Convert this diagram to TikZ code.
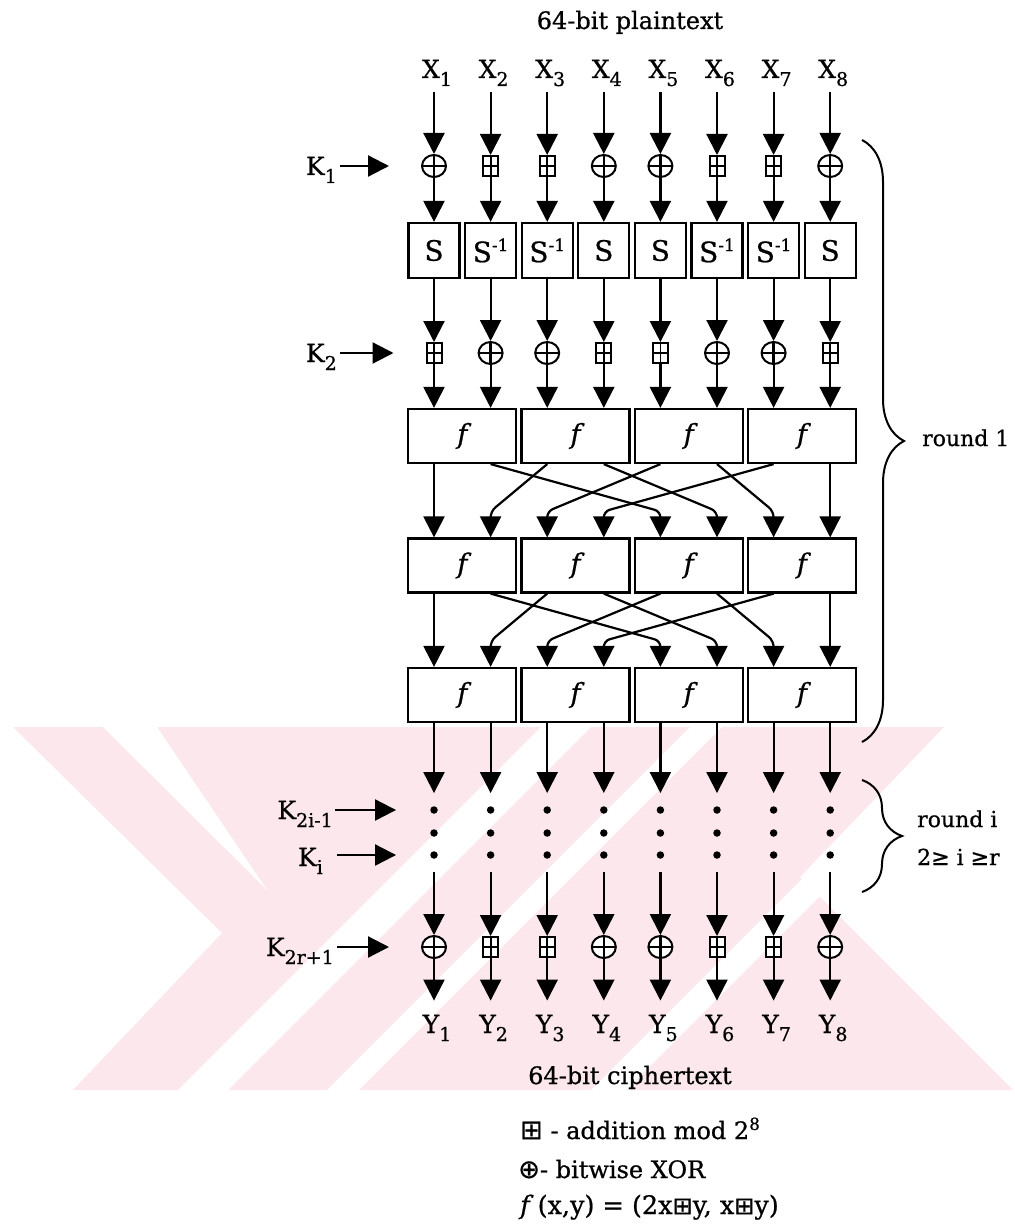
\documentclass[tikz,border=0pt]{standalone}
\usepackage{fontspec}
\setmainfont{DejaVu Serif}[FakeBold=0.7]
\newfontfamily\symf{DejaVu Sans}[FakeBold=0.7]
\usetikzlibrary{arrows.meta,shapes.geometric,calc,decorations.pathreplacing}
\definecolor{wmpink}{RGB}{252,232,236}
\newcommand\lsub[1]{\raisebox{-8pt}{\fontsize{19}{19}\selectfont #1}}
\newcommand\sinv{S\raisebox{11pt}{\fontsize{17}{17}\selectfont -1}}
\begin{document}
\begin{tikzpicture}[x=1pt,y=-1pt,
  arr/.style={line width=2.2pt,-{Triangle[length=21pt,width=21pt]}},
  txt/.style={font=\fontsize{24}{28}\selectfont, inner sep=0pt},
  lbl/.style={font=\fontsize{25}{28}\selectfont, inner sep=0pt},
  sbox/.style={draw, line width=2.2pt, minimum width=51pt, minimum height=55pt, inner sep=0pt, font=\fontsize{28}{28}\selectfont},
  fbox/.style={draw, line width=2.2pt, minimum width=108pt, minimum height=54pt, inner sep=0pt, font=\fontsize{27}{27}\selectfont\itshape},
  xorop/.style={draw, ellipse, line width=2pt, minimum width=24pt, minimum height=22pt, inner sep=0pt, fill=white,
    path picture={\draw[line width=2.4pt] ([xshift=-12pt]path picture bounding box.center) -- ([xshift=12pt]path picture bounding box.center)
      ([yshift=-11pt]path picture bounding box.center) -- ([yshift=11pt]path picture bounding box.center);}},
  addop/.style={draw, rectangle, line width=2pt, minimum width=15pt, minimum height=20pt, inner sep=0pt, fill=white,
    path picture={\draw[line width=1.8pt] (path picture bounding box.north) -- (path picture bounding box.south)
      (path picture bounding box.west) -- (path picture bounding box.east);}},
  dot/.style={circle, fill, inner sep=0pt, minimum size=7.5pt},
  brc/.style={line width=2pt, decorate, decoration={brace, amplitude=42pt}}
]
\useasboundingbox (0,0) rectangle (1014,1230);
% watermark
\begin{scope}
\clip (0,727) rectangle (1014,1090);
\fill[wmpink] (13,727) -- (944,727) -- (800,877) -- (1013,1090) -- (73,1090) -- (222,933) -- cycle;
\fill[white] (103,727) -- (157,727) -- (267,890) -- cycle;
\fill[white] (1268,0) -- (1318,0) -- (0,1318) -- (0,1268) -- cycle;
\fill[white] (1417,0) -- (1449,0) -- (0,1449) -- (0,1417) -- cycle;
\fill[white] (1681,0) -- (1716,0) -- (0,1716) -- (0,1681) -- cycle;
\end{scope}
% columns
\foreach \i in {1,...,8}{
  \pgfmathsetmacro\cx{434+56.6*(\i-1)}
  \coordinate (col\i) at (\cx,0);
  \node[lbl, anchor=base] (X\i) at (\cx+3,78) {X\lsub{\i}};
  \node[dot] (p\i1) at (\cx,810) {};
  \node[dot] (p\i2) at (\cx,833) {};
  \node[dot] (p\i3) at (\cx,855) {};
  \node[lbl, anchor=base] (Y\i) at (\cx+3,1033) {Y\lsub{\i}};
}
\foreach \i/\t in {1/xorop,2/addop,3/addop,4/xorop,5/xorop,6/addop,7/addop,8/xorop}{
  \node[\t] (a\i) at (col\i |- 0,166) {};
  \node[\t] (c\i) at (col\i |- 0,947) {};
}
\foreach \i/\t in {1/addop,2/xorop,3/xorop,4/addop,5/addop,6/xorop,7/xorop,8/addop}{
  \node[\t] (b\i) at (col\i |- 0,353) {};
}
\foreach \i/\t in {1/S,2/\sinv,3/\sinv,4/S,5/S,6/\sinv,7/\sinv,8/S}{
  \node[sbox] (s\i) at (col\i |- 0,250.5) {\t};
}
\foreach \j in {1,...,4}{
  \pgfmathsetmacro\fx{462.3+113.2*(\j-1)}
  \node[fbox] (f1\j) at (\fx,436) {f};
  \node[fbox] (f2\j) at (\fx,565.5) {f};
  \node[fbox] (f3\j) at (\fx,695) {f};
}
% vertical connectors
\foreach \i in {1,...,8}{
  \pgfmathtruncatemacro\bx{(\i+1)/2}
  \draw[arr, shorten <=6pt] (col\i |- X\i.south) -- (a\i);
  \draw[arr] (a\i) -- (s\i);
  \draw[arr] (s\i) -- (b\i);
  \draw[arr] (b\i) -- (col\i |- f1\bx.north);
  \draw[arr, shorten >=13pt] (col\i |- f3\bx.south) -- (p\i1);
  \draw[arr, shorten <=13pt] (p\i3) -- (c\i);
  \draw[arr, shorten >=14pt] (c\i) -- (col\i |- Y\i.north);
}
% connectors between f rows
\foreach \r/\n in {1/2,2/3}{
  \draw[arr] (col1 |- f\r1.south) -- (col1 |- f\n1.north);
  \draw[arr] (col8 |- f\r4.south) -- (col8 |- f\n4.north);
  \foreach \s/\d in {2/5,3/2,4/6,5/3,6/7,7/4}{
    \pgfmathtruncatemacro\sb{(\s+1)/2}
    \pgfmathtruncatemacro\db{(\d+1)/2}
    \draw[arr, rounded corners=6pt] (col\s |- f\r\sb.south) -- ($(col\d |- f\n\db.north)+(0,-26)$) -- (col\d |- f\n\db.north);
  }
}
% keys
\node[lbl, anchor=base east] (K1) at (337,175) {K\lsub{1}};
\node[lbl, anchor=base east] (K2) at (337,362) {K\lsub{2}};
\node[lbl, anchor=base east] (K3) at (333,819) {K\lsub{2i-1}};
\node[lbl, anchor=base east] (K4) at (323,866) {K\lsub{i}};
\node[lbl, anchor=base east] (K5) at (334,956) {K\lsub{2r+1}};
\draw[arr, shorten <=3pt, shorten >=32pt] (K1.east |- a1) -- (a1);
\draw[arr, shorten <=3pt, shorten >=32pt] (K2.east |- b1) -- (b1);
\draw[arr, shorten <=2pt, shorten >=34pt] (K3.east |- p11) -- (p11);
\draw[arr, shorten <=14pt, shorten >=34pt] (K4.east |- p13) -- (p13);
\draw[arr, shorten <=3pt, shorten >=32pt] (K5.east |- c1) -- (c1);
% braces
\coordinate (b1t) at (862,140);
\coordinate (b1b) at (862,742);
\coordinate (b2t) at (862,780);
\coordinate (b2b) at (862,892);
\draw[brc] (b1t) -- (b1b);
\draw[line width=2pt, decorate, decoration={brace, amplitude=40pt}] (b2t) -- (b2b);
\node[txt, font=\fontsize{22}{26}\selectfont, anchor=base west] (r1) at (922,446) {round 1};
\node[txt, font=\fontsize{22}{26}\selectfont, anchor=base west] (ri) at (917,827) {round i};
\node[txt, font=\fontsize{22}{26}\selectfont, anchor=base west] (rr) at (917,865) {2{\symf ≥} i {\symf ≥}r};
% titles
\node[txt, anchor=base] (pt) at (630,29) {64-bit plaintext};
\node[txt, anchor=base] (ct) at (630,1084) {64-bit ciphertext};
% legend
\node[txt, anchor=base west] (l1) at (520,1139) {{\symf\fontsize{27}{27}\selectfont ⊞} - addition mod 2\textsuperscript{8}};
\node[txt, anchor=base west] (l2) at (518,1178) {{\symf\fontsize{26}{26}\selectfont ⊕}- bitwise XOR};
\node[txt, font=\fontsize{25.5}{28}\selectfont, anchor=base west] (l3) at (520,1214) {\textit{f}\,(x,y) = (2x{\symf\fontsize{24}{24}\selectfont ⊞}y, x{\symf\fontsize{24}{24}\selectfont ⊞}y)};
\end{tikzpicture}
\end{document}
